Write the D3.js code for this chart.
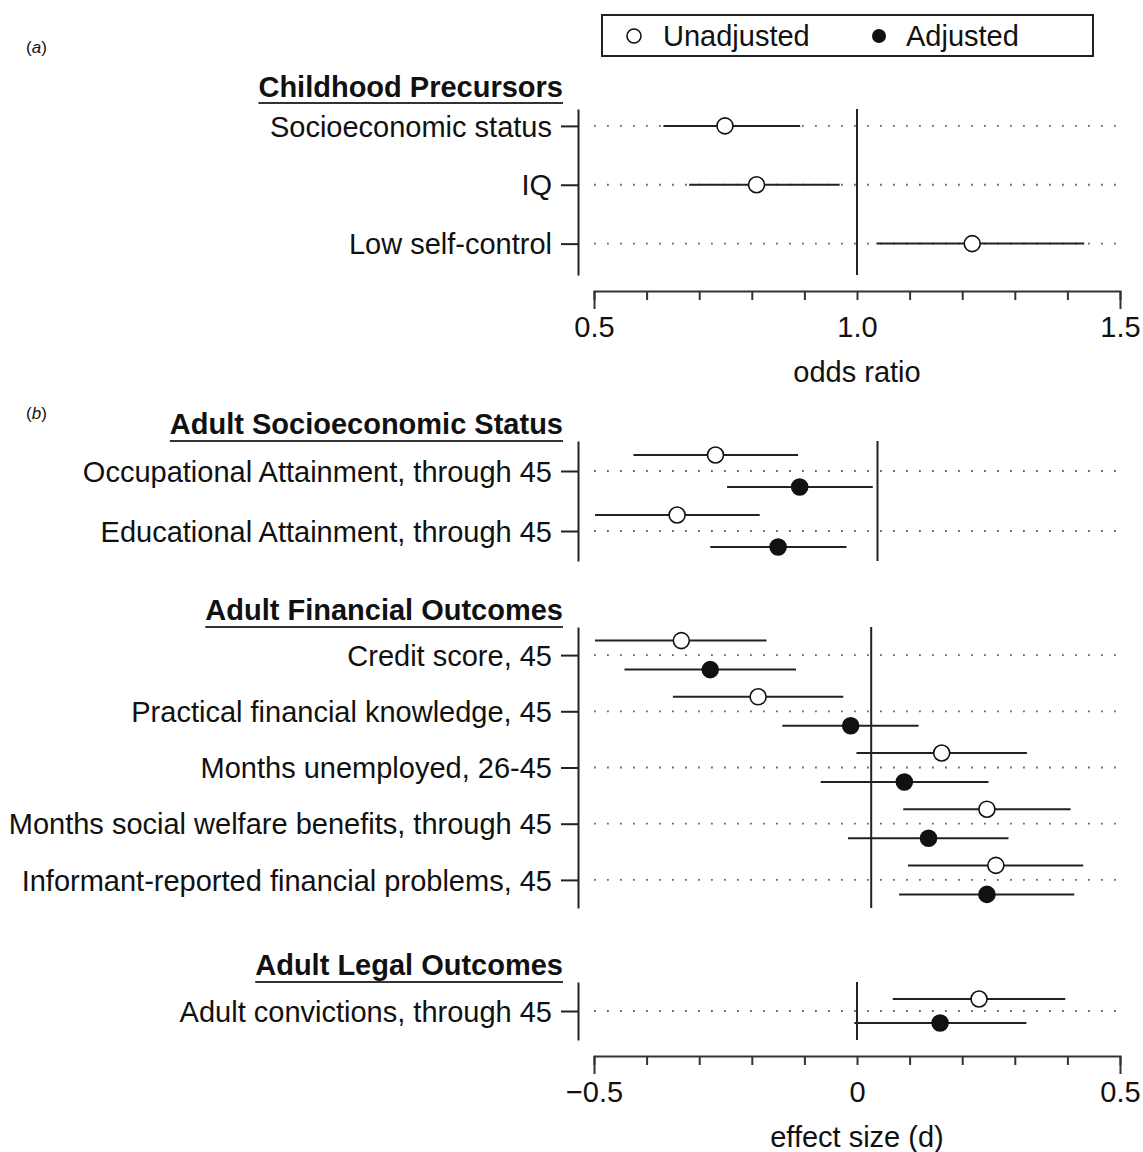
<!DOCTYPE html>
<html>
<head>
<meta charset="utf-8">
<script src="https://cdn.jsdelivr.net/npm/d3@7"></script>
<style>
  body { margin: 0; background: #fff; }
  svg text { font-family: "Liberation Sans", Arial, Helvetica, sans-serif; fill: #111; }
</style>
</head>
<body>
<div id="chart"></div>
<script>
// ---- panel (a): childhood precursors, odds ratios ----
const childLabels = ["Socioeconomic status", "IQ", "Low self-control"];
const childOR = [0.749, 0.809, 1.219];
const childLo = [0.632, 0.681, 1.037];
const childHi = [0.892, 0.967, 1.432];
const childRef = 1.0;

// ---- panel (b): adult outcomes, effect sizes ----
const sesLabels = ["Occupational Attainment, through 45", "Educational Attainment, through 45"];
const sesUnadj = [-0.269, -0.342];
const sesUnadjLo = [-0.425, -0.498];
const sesUnadjHi = [-0.112, -0.185];
const sesAdj = [-0.109, -0.150];
const sesAdjLo = [-0.247, -0.279];
const sesAdjHi = [0.030, -0.020];

const finLabels = ["Credit score, 45", "Practical financial knowledge, 45", "Months unemployed, 26-45",
                   "Months social welfare benefits, through 45", "Informant-reported financial problems, 45"];
const finUnadj = [-0.334, -0.188, 0.161, 0.247, 0.264];
const finUnadjLo = [-0.498, -0.350, -0.001, 0.088, 0.097];
const finUnadjHi = [-0.172, -0.026, 0.323, 0.406, 0.430];
const finAdj = [-0.279, -0.012, 0.090, 0.136, 0.247];
const finAdjLo = [-0.442, -0.142, -0.069, -0.017, 0.080];
const finAdjHi = [-0.116, 0.117, 0.250, 0.288, 0.413];

const legLabels = ["Adult convictions, through 45"];
const legUnadj = [0.232];
const legUnadjLo = [0.068];
const legUnadjHi = [0.396];
const legAdj = [0.158];
const legAdjLo = [-0.005];
const legAdjHi = [0.322];

// vertical reference line of each section in panel (b)
const sectionTitles = ["Adult Socioeconomic Status", "Adult Financial Outcomes", "Adult Legal Outcomes"];
const sectionRef = [0.039, 0.027, 0];

// axis ticks
const orTicks = [0.5, 0.6, 0.7, 0.8, 0.9, 1.0, 1.1, 1.2, 1.3, 1.4, 1.5];
const orMajor = [0.5, 1.0, 1.5];
const orMajorLabels = ["0.5", "1.0", "1.5"];
const esTicks = [-0.5, -0.4, -0.3, -0.2, -0.1, 0, 0.1, 0.2, 0.3, 0.4, 0.5];
const esMajor = [-0.5, 0, 0.5];
const esMajorLabels = ["\u22120.5", "0", "0.5"];

// ---- layout ----
const W = 1143, H = 1152;
const fontSize = 29;
const leftAxisX = 578;
const titleRight = 563;
const xRange = [594, 1120];
const ink = "#222";

const svg = d3.select("#chart").append("svg")
    .attr("width", W).attr("height", H);

const xOR = d3.scaleLinear().domain([0.5, 1.5]).range(xRange);
const xES = d3.scaleLinear().domain([-0.5, 0.5]).range(xRange);

function zip(labels, est, lo, hi) {
    return labels.map((l, i) => ({label: l, est: est[i], lo: lo[i], hi: hi[i]}));
}

// draws one block: title, left axis with labels, dotted guides, reference line, estimates
function drawSection(sec, x) {
    const g = svg.append("g");
    const y = d3.scalePoint()
        .domain(sec.labels)
        .range([sec.top, sec.bottom])
        .padding(sec.pad)
        .align(sec.align);

    // underlined title
    const title = g.append("text")
        .attr("x", titleRight).attr("y", sec.titleY)
        .attr("text-anchor", "end")
        .attr("font-size", fontSize).attr("font-weight", "bold")
        .text(sec.title);
    const len = title.node().getComputedTextLength();
    g.append("line")
        .attr("x1", titleRight - len).attr("x2", titleRight)
        .attr("y1", sec.underlineY).attr("y2", sec.underlineY)
        .attr("stroke", "#333").attr("stroke-width", 2);

    // dotted guides
    g.selectAll(".guide").data(sec.labels).join("line")
        .attr("class", "guide")
        .attr("x1", xRange[0]).attr("x2", xRange[1] - 3)
        .attr("y1", d => y(d)).attr("y2", d => y(d))
        .attr("stroke", "#666").attr("stroke-width", 1.8)
        .attr("stroke-dasharray", "1.8 11.2");

    // left axis
    const axisG = g.append("g")
        .attr("transform", `translate(${leftAxisX},0)`)
        .call(d3.axisLeft(y).tickSizeInner(17).tickSizeOuter(0).tickPadding(9));
    axisG.selectAll("path, line").attr("stroke", ink).attr("stroke-width", 2);
    axisG.selectAll("text").attr("font-size", fontSize).attr("fill", "#111")
        .attr("font-family", null).attr("dy", "0.35em");

    // reference line
    g.append("line")
        .attr("x1", x(sec.ref)).attr("x2", x(sec.ref))
        .attr("y1", sec.top).attr("y2", sec.bottom)
        .attr("stroke", ink).attr("stroke-width", 2);

    // estimates with intervals
    sec.series.forEach(s => {
        const rows = g.append("g").selectAll("g").data(s.rows).join("g")
            .attr("transform", d => `translate(0,${y(d.label) + s.offset})`);
        rows.append("line")
            .attr("x1", d => x(d.lo)).attr("x2", d => x(d.hi))
            .attr("stroke", ink).attr("stroke-width", 2);
        rows.append("circle")
            .attr("cx", d => x(d.est)).attr("r", 8)
            .attr("fill", s.fill).attr("stroke", "#111").attr("stroke-width", 1.6);
    });
}

function drawBottomAxis(x, ticks, major, majorLabels, yPos, label, labelY) {
    const ax = d3.axisBottom(x)
        .tickValues(ticks)
        .tickSizeInner(9).tickSizeOuter(18).tickPadding(16)
        .tickFormat(d => {
            const i = major.findIndex(m => Math.abs(m - d) < 1e-9);
            return i >= 0 ? majorLabels[i] : "";
        });
    const g = svg.append("g").attr("transform", `translate(0,${yPos})`).call(ax);
    g.selectAll("path, line").attr("stroke", "#333").attr("stroke-width", 2);
    g.selectAll("text").attr("font-size", fontSize).attr("fill", "#111").attr("font-family", null);
    svg.append("text")
        .attr("x", x.range()[0] + (x.range()[1] - x.range()[0]) / 2).attr("y", labelY)
        .attr("text-anchor", "middle").attr("font-size", fontSize)
        .text(label);
}

// ---- legend ----
const legend = svg.append("g");
legend.append("rect")
    .attr("x", 602).attr("y", 15).attr("width", 491).attr("height", 41)
    .attr("fill", "none").attr("stroke", "#222").attr("stroke-width", 2);
legend.append("circle").attr("cx", 634).attr("cy", 36).attr("r", 7)
    .attr("fill", "#fff").attr("stroke", "#111").attr("stroke-width", 1.6);
legend.append("text").attr("x", 663).attr("y", 46).attr("font-size", fontSize).text("Unadjusted");
legend.append("circle").attr("cx", 879).attr("cy", 36).attr("r", 7).attr("fill", "#111");
legend.append("text").attr("x", 906).attr("y", 46).attr("font-size", fontSize).text("Adjusted");

// ---- panel labels ----
svg.append("text").attr("x", 26).attr("y", 53).attr("font-size", 17)
    .html("(<tspan font-style='italic'>a</tspan>)");
svg.append("text").attr("x", 26).attr("y", 419).attr("font-size", 17)
    .html("(<tspan font-style='italic'>b</tspan>)");

// ---- panel (a) ----
drawSection({
    title: "Childhood Precursors", titleY: 97, underlineY: 103,
    labels: childLabels, top: 109, bottom: 275, pad: 0.41, align: 0.35,
    ref: childRef,
    series: [{rows: zip(childLabels, childOR, childLo, childHi), offset: 0, fill: "#fff"}]
}, xOR);
drawBottomAxis(xOR, orTicks, orMajor, orMajorLabels, 291, "odds ratio", 382);

// ---- panel (b) ----
const sectionLayout = [
    {top: 441, bottom: 561, titleY: 434, offset: 16},
    {top: 627, bottom: 908, titleY: 620, offset: 14.5},
    {top: 982, bottom: 1040, titleY: 975, offset: 12}
];
const sectionData = [
    {labels: sesLabels, u: zip(sesLabels, sesUnadj, sesUnadjLo, sesUnadjHi), a: zip(sesLabels, sesAdj, sesAdjLo, sesAdjHi)},
    {labels: finLabels, u: zip(finLabels, finUnadj, finUnadjLo, finUnadjHi), a: zip(finLabels, finAdj, finAdjLo, finAdjHi)},
    {labels: legLabels, u: zip(legLabels, legUnadj, legUnadjLo, legUnadjHi), a: zip(legLabels, legAdj, legAdjLo, legAdjHi)}
];
sectionData.forEach((d, i) => {
    const L = sectionLayout[i];
    drawSection({
        title: sectionTitles[i], titleY: L.titleY, underlineY: L.top,
        labels: d.labels, top: L.top, bottom: L.bottom, pad: 0.5, align: 0.5,
        ref: sectionRef[i],
        series: [
            {rows: d.u, offset: -L.offset, fill: "#fff"},
            {rows: d.a, offset: L.offset, fill: "#111"}
        ]
    }, xES);
});
drawBottomAxis(xES, esTicks, esMajor, esMajorLabels, 1056, "effect size (d)", 1147);
</script>
</body>
</html>
